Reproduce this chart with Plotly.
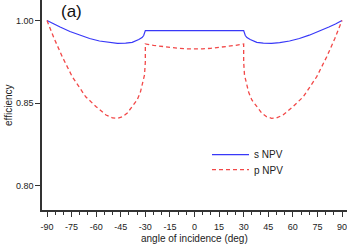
import plotly.graph_objects as go

# s-polarised NPV efficiency (linear axis units)
s_angle = [-90, -86, -82, -76, -70, -64, -58, -52, -47, -42, -38, -34, -32, -31, -30.3, -30,
           30, 30.3, 31, 32, 34, 38, 42, 47, 52, 58, 64, 70, 76, 82, 86, 90]
s_eff = [1.0, 0.9958, 0.9921, 0.9867, 0.9822, 0.9782, 0.9752, 0.9732, 0.9724, 0.9726, 0.9736,
         0.9770, 0.9794, 0.9818, 0.9849, 0.9877,
         0.9877, 0.9849, 0.9818, 0.9794, 0.9770, 0.9736, 0.9726, 0.9724, 0.9732, 0.9752,
         0.9782, 0.9822, 0.9867, 0.9921, 0.9958, 1.0]

# p-polarised NPV efficiency
p_angle = [-90, -85.7, -80.7, -74.6, -66.4, -60, -54, -50, -47, -44, -41, -38, -35, -33, -31.5,
           -30.5, -30, -30, -25, -20, -15, -10, -5, 0, 5, 10, 15, 20, 25, 30, 30, 30.5, 31.5,
           33, 35, 38, 41, 44, 47, 50, 54, 60, 66.4, 74.6, 80.7, 85.7, 90]
p_eff = [1.0, 0.9785, 0.9562, 0.9320, 0.9077, 0.8956, 0.8856, 0.8820, 0.8816, 0.8835, 0.8880,
         0.8953, 0.9038, 0.9134, 0.9243, 0.9340, 0.9498, 0.9716, 0.9699, 0.9684, 0.9672, 0.9663,
         0.9657, 0.9655, 0.9657, 0.9663, 0.9672, 0.9684, 0.9699, 0.9716, 0.9498, 0.9340, 0.9243,
         0.9134, 0.9038, 0.8953, 0.8880, 0.8835, 0.8816, 0.8820, 0.8856, 0.8956, 0.9077,
         0.9320, 0.9562, 0.9785, 1.0]

x_ticks = [-90, -75, -60, -45, -30, -15, 0, 15, 30, 45, 60, 75, 90]
x_ticktext = ["-90", "-75", "-60", "-45", "-30", "-15", "0", "15", "30", "45", "60", "75", "90"]
y_tickvals = [0.80, 0.90, 1.00]
y_ticktext = ["0.80", "0.85", "1.00"]

FONT = "Liberation Sans, Arial, sans-serif"
TXT = "#222"

fig = go.Figure()
fig.add_trace(go.Scatter(x=s_angle, y=s_eff, mode="lines", name="s NPV", legend="legend",
                         line=dict(color="#3838f8", width=1.2)))
fig.add_trace(go.Scatter(x=p_angle, y=p_eff, mode="lines", name="p NPV", legend="legend2",
                         line=dict(color="#f24848", width=1.3, dash="4px,3px")))

leg_common = dict(xanchor="left", yanchor="top", bgcolor="rgba(0,0,0,0)",
                  font=dict(size=10, color=TXT), itemwidth=37)

fig.update_layout(
    width=347, height=247,
    margin=dict(l=42, r=0, t=0, b=37),
    paper_bgcolor="white", plot_bgcolor="white",
    font=dict(family=FONT, size=9, color=TXT),
    showlegend=True,
    legend=dict(x=0.541, y=0.333, **leg_common),
    legend2=dict(x=0.541, y=0.261, **leg_common),
    xaxis=dict(range=[-93.05, 93.05], tickvals=x_ticks, ticktext=x_ticktext,
               ticks="outside", ticklen=5, tickwidth=1, tickcolor="#333",
               showline=True, linecolor="#333", linewidth=1.5,
               showgrid=False, zeroline=False, automargin=False,
               ticklabeloverflow="allow", ticklabelstandoff=2,
               minor=dict(dtick=5, tick0=0, ticks="outside", ticklen=3, tickcolor="#333",
                          showgrid=False),
               tickfont=dict(size=9, color=TXT)),
    yaxis=dict(range=[0.7706, 1.0248], tickvals=y_tickvals, ticktext=y_ticktext,
               ticks="outside", ticklen=5, tickwidth=1, tickcolor="#333",
               showline=True, linecolor="#333", linewidth=1.5, showgrid=False, zeroline=False,
               automargin=False, tickfont=dict(size=9, color=TXT)),
    annotations=[
        dict(text="(a)", xref="paper", yref="paper", x=0.055, y=1.0,
             xanchor="left", yanchor="top", yshift=0, showarrow=False,
             font=dict(size=17, color="#111", family=FONT)),
        dict(text="angle of incidence (deg)", xref="paper", yref="paper", x=0.5, y=0,
             xanchor="center", yanchor="middle", yshift=-28, showarrow=False,
             font=dict(size=10, color=TXT, family=FONT)),
        dict(text="efficiency", xref="paper", yref="paper", x=0, y=0.5,
             xanchor="center", yanchor="middle", xshift=-34, textangle=-90, showarrow=False,
             font=dict(size=10, color=TXT, family=FONT)),
    ],
)

fig.write_html("out.html", config={"displayModeBar": False},
               post_script="document.body.style.margin='0';")
